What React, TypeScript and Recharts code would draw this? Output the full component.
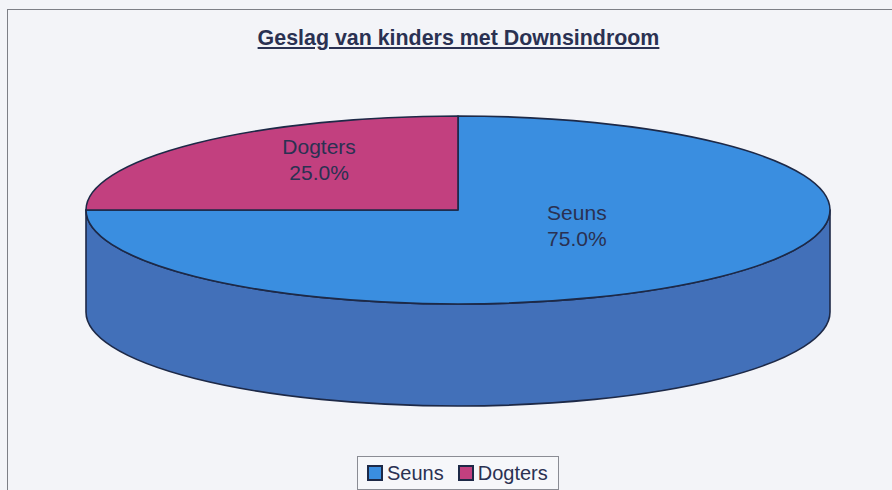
import React from 'react';
import { PieChart, Pie, Cell, Legend } from 'recharts';

// data
const names = ['Seuns', 'Dogters'];
const values = [75, 25];
const topColors = ['#3a8ee0', '#c2407f'];
const sideColors = ['#4270b9', '#8e2d5f'];

const data = names.map((name, i) => ({ name, value: values[i] }));
const total = values.reduce((a, b) => a + b, 0);

const CX = 458;
const CY = 210;
const RX = 372;
const RY = 94;
const DEPTH = 102;
const STROKE = '#1d2947';
const INK = '#2a3152';

const RAD = Math.PI / 180;
const pt = (cx, cy, rx, ry, a) => [cx + rx * Math.cos(a * RAD), cy - ry * Math.sin(a * RAD)];

// flat top of the slice, squashed into an ellipse
const TopSlice = (props) => {
  const { cx, cy, outerRadius, startAngle, endAngle, fill } = props;
  const rx = outerRadius;
  const ry = outerRadius * (RY / RX);
  const [x1, y1] = pt(cx, cy, rx, ry, startAngle);
  const [x2, y2] = pt(cx, cy, rx, ry, endAngle);
  const span = Math.abs(startAngle - endAngle);
  const sweep = startAngle > endAngle ? 1 : 0;
  const d = `M${cx},${cy} L${x1},${y1} A${rx},${ry} 0 ${span > 180 ? 1 : 0} ${sweep} ${x2},${y2} Z`;
  return <path d={d} fill={fill} stroke={STROKE} strokeWidth={1.6} strokeLinejoin="round" />;
};

// visible front wall of the slice (math angles 180..360)
const SideSlice = (props) => {
  const { cx, cy, outerRadius, startAngle, endAngle, fill } = props;
  const rx = outerRadius;
  const ry = outerRadius * (RY / RX);
  const lo = Math.min(startAngle, endAngle);
  const hi = Math.max(startAngle, endAngle);
  const parts = [];
  for (let k = -2; k <= 1; k++) {
    const a = Math.max(lo, -180 + 360 * k);
    const b = Math.min(hi, 360 * k);
    if (b - a > 0.01) parts.push([a, b]);
  }
  return (
    <g>
      {parts.map(([a, b], i) => {
        const [xa, ya] = pt(cx, cy, rx, ry, a);
        const [xb, yb] = pt(cx, cy, rx, ry, b);
        const large = b - a > 180 ? 1 : 0;
        const d = `M${xa},${ya} A${rx},${ry} 0 ${large} 0 ${xb},${yb} L${xb},${yb + DEPTH} A${rx},${ry} 0 ${large} 1 ${xa},${ya + DEPTH} Z`;
        return <path key={i} d={d} fill={fill} stroke={STROKE} strokeWidth={1.6} strokeLinejoin="round" />;
      })}
    </g>
  );
};

const renderLabel = (props) => {
  const { cx, cy, outerRadius, midAngle, index } = props;
  const rx = outerRadius * 0.49;
  const ry = outerRadius * (RY / RX) * 0.49;
  const [x, y] = pt(cx, cy, rx, ry, midAngle);
  const lx = x - 10;
  const ly = y - 17;
  const pct = ((values[index] / total) * 100).toFixed(1) + '%';
  return (
    <text x={lx} y={ly} textAnchor="middle" fill={INK} fontSize={21} fontFamily="Liberation Sans, Arial, sans-serif">
      <tspan x={lx} dy={-6}>{names[index]}</tspan>
      <tspan x={lx} dy={26}>{pct}</tspan>
    </text>
  );
};

const LegendBox = () => (
  <div
    style={{
      display: 'inline-flex',
      alignItems: 'center',
      border: '1px solid #8a8c94',
      background: '#f6f7fa',
      padding: '0 10px 0 9px',
      height: 32,
      fontFamily: 'Liberation Sans, Arial, sans-serif',
      fontSize: 20,
      color: INK,
    }}
  >
    {names.map((n, i) => (
      <span key={n} style={{ display: 'inline-flex', alignItems: 'center', marginRight: i === 0 ? 14 : 0 }}>
        <span
          style={{
            width: 12,
            height: 12,
            background: topColors[i],
            border: `2px solid ${STROKE}`,
            marginRight: 4,
            display: 'inline-block',
          }}
        />
        {n}
      </span>
    ))}
  </div>
);

export default function App() {
  return (
    <div style={{ position: 'absolute', left: 0, top: 0, width: 892, height: 490, overflow: 'hidden', background: '#f3f4f8' }}>
      <div style={{ position: 'absolute', left: 7, top: 9, width: 900, height: 500, border: '1px solid #7d7f86', boxSizing: 'border-box' }} />
      <div
        style={{
          position: 'absolute',
          left: 0,
          width: 917,
          top: 26,
          textAlign: 'center',
          fontFamily: 'Liberation Sans, Arial, sans-serif',
          fontWeight: 'bold',
          fontSize: 21.4,
          color: INK,
          textDecoration: 'underline',
        }}
      >
        Geslag van kinders met Downsindroom
      </div>
      <PieChart width={892} height={490} margin={{ top: 0, right: 0, bottom: 0, left: 0 }} style={{ position: 'absolute', left: 0, top: 0 }}>
        <Pie
          data={data}
          dataKey="value"
          nameKey="name"
          cx={CX}
          cy={CY}
          outerRadius={RX}
          startAngle={90}
          endAngle={-270}
          shape={SideSlice}
          legendType="none"
          isAnimationActive={false}
        >
          {data.map((d, i) => (
            <Cell key={d.name} fill={sideColors[i]} />
          ))}
        </Pie>
        <Pie
          data={data}
          dataKey="value"
          nameKey="name"
          cx={CX}
          cy={CY}
          outerRadius={RX}
          startAngle={90}
          endAngle={-270}
          shape={TopSlice}
          label={renderLabel}
          labelLine={false}
          isAnimationActive={false}
        >
          {data.map((d, i) => (
            <Cell key={d.name} fill={topColors[i]} />
          ))}
        </Pie>
        <Legend content={() => <LegendBox />} wrapperStyle={{ left: 357, top: 456, width: 'auto' }} />
      </PieChart>
    </div>
  );
}
